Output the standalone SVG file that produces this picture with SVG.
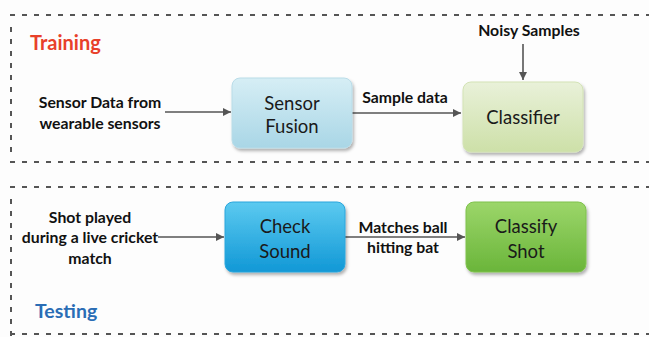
<svg xmlns="http://www.w3.org/2000/svg" width="649" height="337" viewBox="0 0 649 337">
<style>
.dash{stroke:#555;stroke-width:2;fill:none;stroke-dasharray:5 7}
.lbl{font-family:Lato,"Open Sans",sans-serif;font-weight:bold;font-size:15.8px;fill:#111;text-anchor:middle}
.nt{font-family:Lato,"Open Sans",sans-serif;font-size:18.5px;fill:#1a1a1a;text-anchor:middle}
.con{stroke:#555;stroke-width:1.6;fill:none;marker-end:url(#ah)}
</style>
<defs>
<marker id="ah" viewBox="0 0 10 10" refX="10" refY="5" markerWidth="10" markerHeight="8" markerUnits="userSpaceOnUse" orient="auto">
<path d="M0,0 L10,5 L0,10 z" fill="#555"/>
</marker>
<linearGradient id="gLB" x1="0" y1="0" x2="0" y2="1"><stop offset="0" stop-color="#d6eef5"/><stop offset="1" stop-color="#a9d6e6"/></linearGradient>
<linearGradient id="gLG" x1="0" y1="0" x2="0" y2="1"><stop offset="0" stop-color="#e9f1d9"/><stop offset="1" stop-color="#cde0a8"/></linearGradient>
<linearGradient id="gB" x1="0" y1="0" x2="0" y2="1"><stop offset="0" stop-color="#5ccaf0"/><stop offset="1" stop-color="#1198d6"/></linearGradient>
<linearGradient id="gG" x1="0" y1="0" x2="0" y2="1"><stop offset="0" stop-color="#9cd66a"/><stop offset="1" stop-color="#6ab53a"/></linearGradient>
<filter id="sh" x="-10%" y="-10%" width="130%" height="140%"><feDropShadow dx="1.5" dy="2.5" stdDeviation="1.5" flood-color="#000" flood-opacity="0.3"/></filter>
</defs>
<rect width="649" height="337" fill="#fdfdfd"/>
<g id="frames">
<line class="dash" x1="10" y1="15" x2="649" y2="15"/>
<line class="dash" x1="10" y1="162" x2="649" y2="162"/>
<line class="dash" x1="11" y1="27" x2="11" y2="158" stroke-dasharray="4 8"/>
<line class="dash" x1="10" y1="187" x2="649" y2="187"/>
<line class="dash" x1="11" y1="199" x2="11" y2="337" stroke-dasharray="4 8"/>
<line class="dash" x1="10" y1="334" x2="649" y2="334" stroke="#bbb"/>
<text x="30" y="50" font-family="Lato,'Open Sans',sans-serif" font-weight="bold" font-size="20" fill="#e8402a">Training</text>
<text x="35" y="318" font-family="Lato,'Open Sans',sans-serif" font-weight="bold" font-size="19.5" fill="#2a6db5">Testing</text>
</g>
<g id="connectors">
<line class="con" x1="165" y1="112" x2="231" y2="112"/>
<line class="con" x1="352" y1="113" x2="461" y2="113"/>
<line class="con" x1="523" y1="44" x2="523" y2="80"/>
<line class="con" x1="158" y1="237" x2="224" y2="237"/>
<line class="con" x1="345" y1="237" x2="465" y2="237"/>
</g>
<g id="lbl-sensor-data">
<text class="lbl" x="100" y="108">Sensor Data from</text>
<text class="lbl" x="100" y="129">wearable sensors</text>
</g>
<g id="lbl-sample"><text class="lbl" x="405" y="103">Sample data</text></g>
<g id="lbl-noisy"><text class="lbl" x="529" y="36">Noisy Samples</text></g>
<g id="lbl-shot">
<text class="lbl" x="90" y="223">Shot played</text>
<text class="lbl" x="90" y="243">during a live cricket</text>
<text class="lbl" x="90" y="264">match</text>
</g>
<g id="lbl-matches">
<text class="lbl" x="403" y="233">Matches ball</text>
<text class="lbl" x="403" y="253">hitting bat</text>
</g>
<g id="sensor-fusion">
<rect x="232" y="78" width="120" height="70" rx="8" fill="url(#gLB)" stroke="#b9dce8" filter="url(#sh)"/>
<text class="nt" x="292" y="110">Sensor</text>
<text class="nt" x="292" y="133">Fusion</text>
</g>
<g id="classifier">
<rect x="463" y="82" width="120" height="70" rx="8" fill="url(#gLG)" stroke="#d3e3b5" filter="url(#sh)"/>
<text class="nt" x="523" y="124">Classifier</text>
</g>
<g id="check-sound">
<rect x="225" y="202" width="120" height="70" rx="8" fill="url(#gB)" stroke="#2aa6dc" filter="url(#sh)"/>
<text class="nt" x="285" y="233">Check</text>
<text class="nt" x="285" y="258">Sound</text>
</g>
<g id="classify-shot">
<rect x="466" y="202" width="120" height="70" rx="8" fill="url(#gG)" stroke="#7fc24c" filter="url(#sh)"/>
<text class="nt" x="526" y="233">Classify</text>
<text class="nt" x="526" y="258">Shot</text>
</g>
</svg>
